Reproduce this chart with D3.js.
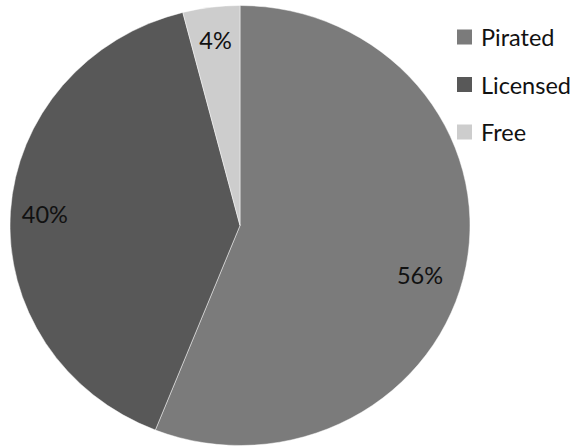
<!DOCTYPE html>
<html lang="en">
<head>
<meta charset="UTF-8">
<script src="https://d3js.org/d3.v7.min.js"></script>
<style>
    body { margin: 0; background: #fff; }
    svg { display: block; }
    text { font-family: Lato, 'Open Sans', sans-serif; fill: #111; }
</style>
</head>
<body>
<script>
var categories = ["Pirated", "Licensed", "Free"];
var shares = [56, 40, 4];
var colors = ["#7b7b7b", "#585858", "#cdcdcd"];

var W = 575, H = 447;
var cx = 240, cy = 225.5, rx = 230, ry = 220;
var squash = ry / rx;

var svg = d3.select("body").append("svg")
    .attr("width", W)
    .attr("height", H);

var data = categories.map(function(c, i) {
    return { name: c, value: shares[i], color: colors[i] };
});

var pie = d3.pie()
    .sort(null)
    .value(function(d) { return d.value; });

var arc = d3.arc().innerRadius(0).outerRadius(rx);
var labelArc = d3.arc().innerRadius(rx * 0.85).outerRadius(rx * 0.85);

var arcs = pie(data);

// pie is slightly wider than tall in the original, so squash vertically
svg.append("g")
    .attr("transform", "translate(" + cx + "," + cy + ") scale(1," + squash + ")")
    .selectAll("path")
    .data(arcs)
    .enter().append("path")
    .attr("d", arc)
    .attr("fill", function(d) { return d.data.color; })
    .attr("stroke", "#ffffff")
    .attr("stroke-opacity", 0.6)
    .attr("stroke-width", 0.8);

// Excel nudged the big label a bit down and inward
var nudge = { "Pirated": [-12, 14] };

svg.append("g")
    .selectAll("text")
    .data(arcs)
    .enter().append("text")
    .attr("x", function(d) {
        var n = nudge[d.data.name] || [0, 0];
        return cx + labelArc.centroid(d)[0] + n[0];
    })
    .attr("y", function(d) {
        var n = nudge[d.data.name] || [0, 0];
        return cy + labelArc.centroid(d)[1] * squash + n[1];
    })
    .attr("text-anchor", "middle")
    .attr("dominant-baseline", "central")
    .style("font-size", "23.5px")
    .text(function(d) { return d.data.value + "%"; });

// legend
var ly = d3.scalePoint()
    .domain(categories)
    .range([37, 132]);

var legend = svg.append("g")
    .selectAll("g")
    .data(data)
    .enter().append("g")
    .attr("transform", function(d) { return "translate(457," + ly(d.name) + ")"; });

legend.append("rect")
    .attr("x", 0)
    .attr("y", -7.5)
    .attr("width", 15)
    .attr("height", 15)
    .attr("fill", function(d) { return d.color; });

legend.append("text")
    .attr("x", 24)
    .attr("y", 0)
    .attr("dominant-baseline", "central")
    .style("font-size", "23.5px")
    .text(function(d) { return d.name; });
</script>
</body>
</html>
